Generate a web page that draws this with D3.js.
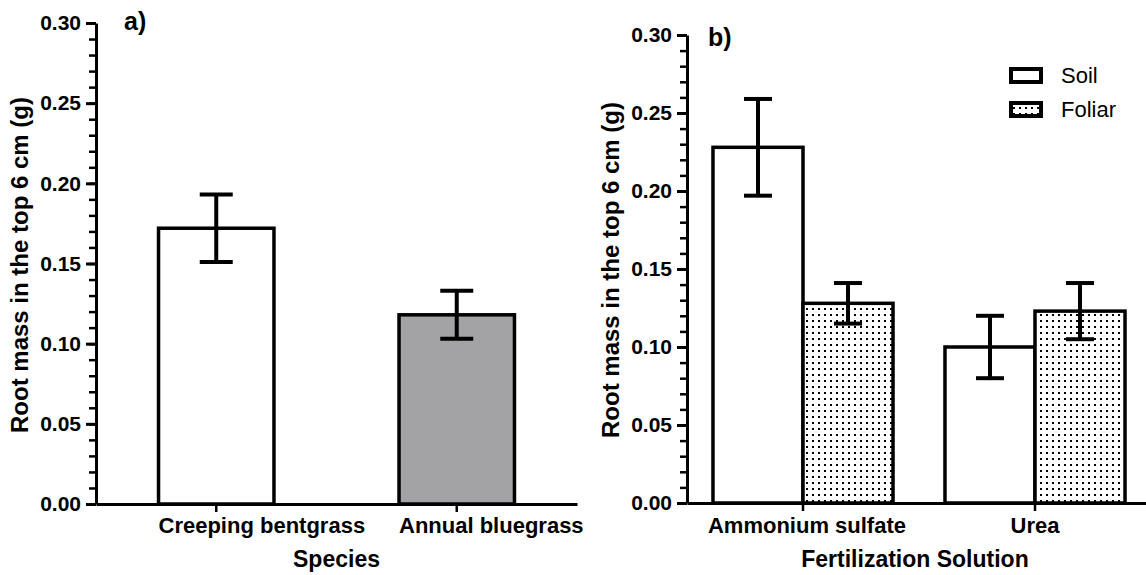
<!DOCTYPE html>
<html lang="en">
<head>
<meta charset="utf-8">
<title>Root mass bars</title>
<script src="https://d3js.org/d3.v7.min.js"></script>
<style>
  body { margin: 0; background: #fff; }
  svg text { font-family: "Liberation Sans", Arial, sans-serif; fill: #000; }
  .tickLbl { font-size: 21px; font-weight: bold; }
  .catLbl { font-size: 22px; font-weight: bold; }
  .axTitle { font-size: 23px; font-weight: bold; }
  .yTitle { font-size: 24px; font-weight: bold; }
  .panelLbl { font-size: 25px; font-weight: bold; }
  .legLbl { font-size: 22px; }
</style>
</head>
<body>
<script>
// panel a - species
var speciesCats = ["Creeping bentgrass", "Annual bluegrass"];
var speciesMean = [0.172, 0.118];
var speciesSE   = [0.021, 0.015];

// panel b - fertilization solution
var fertCats   = ["Ammonium sulfate", "Urea"];
var appMethods = ["Soil", "Foliar"];
var soilMean   = [0.228, 0.100];
var soilSE     = [0.031, 0.020];
var foliarMean = [0.128, 0.123];
var foliarSE   = [0.013, 0.018];

var yTicks = [0, 0.05, 0.10, 0.15, 0.20, 0.25, 0.30];

var svg = d3.select("body").append("svg")
    .attr("width", 1146)
    .attr("height", 575);

var defs = svg.append("defs");
var pat = defs.append("pattern")
    .attr("id", "dots")
    .attr("patternUnits", "userSpaceOnUse")
    .attr("width", 6).attr("height", 6);
pat.append("rect").attr("width", 6).attr("height", 6).attr("fill", "#fff");
pat.append("rect").attr("x", 2).attr("y", 2).attr("width", 2).attr("height", 2).attr("fill", "#000");

function yAxis(g, y, x0) {
    var ax = g.append("g").attr("transform", "translate(" + x0 + ",0)");
    // minor ticks
    ax.append("g")
        .call(d3.axisLeft(y).tickValues(d3.range(0, 0.3001, 0.01)).tickSize(7).tickFormat(""))
        .call(function(s) {
            s.select(".domain").remove();
            s.selectAll("line").attr("stroke-width", 2.5);
        });
    // major ticks
    ax.append("g")
        .call(d3.axisLeft(y).tickValues(yTicks).tickSize(10).tickSizeOuter(0).tickPadding(5)
            .tickFormat(d3.format(".2f")))
        .call(function(s) {
            s.select(".domain").attr("stroke-width", 3);
            s.selectAll("line").attr("stroke-width", 3);
            s.selectAll("text").attr("class", "tickLbl").attr("font-size", null).attr("font-family", null);
        });
}

function errBar(g, cx, yTop, yBot, capW) {
    g.append("line").attr("x1", cx).attr("x2", cx).attr("y1", yTop).attr("y2", yBot)
        .attr("stroke", "#000").attr("stroke-width", 4);
    [yTop, yBot].forEach(function(yy) {
        g.append("line").attr("x1", cx - capW / 2).attr("x2", cx + capW / 2).attr("y1", yy).attr("y2", yy)
            .attr("stroke", "#000").attr("stroke-width", 4);
    });
}

function yTitle(cx, cy) {
    svg.append("text")
        .attr("class", "yTitle")
        .attr("transform", "translate(" + cx + "," + cy + ") rotate(-90)")
        .attr("text-anchor", "middle")
        .text("Root mass in the top 6 cm (g)");
}

// ---------- panel a ----------
var yA = d3.scaleLinear().domain([0, 0.30]).range([504, 23]);
var xA = d3.scaleBand().domain(speciesCats).range([96, 577]);
var gA = svg.append("g");
var barW = xA.bandwidth() * 0.48;

speciesCats.forEach(function(c, i) {
    var cx = xA(c) + xA.bandwidth() / 2;
    gA.append("rect")
        .attr("x", cx - barW / 2).attr("y", yA(speciesMean[i]))
        .attr("width", barW).attr("height", yA(0) - yA(speciesMean[i]))
        .attr("fill", i == 0 ? "#fff" : "#a3a3a6")
        .attr("stroke", "#000").attr("stroke-width", 3.5);
    errBar(gA, cx, yA(speciesMean[i] + speciesSE[i]), yA(speciesMean[i] - speciesSE[i]), 33);
});

gA.append("g")
    .attr("transform", "translate(0," + yA(0) + ")")
    .call(d3.axisBottom(xA).tickSize(8).tickSizeOuter(0).tickFormat(""))
    .call(function(s) {
        s.select(".domain").attr("stroke-width", 3);
        s.selectAll("line").attr("stroke-width", 2.5);
    });
yAxis(gA, yA, 96);

speciesCats.forEach(function(c, i) {
    var cx = xA(c) + xA.bandwidth() / 2;
    gA.append("text").attr("class", "catLbl")
        .attr("x", cx - barW / 2).attr("y", 533)
        .text(c);
});
gA.append("text").attr("class", "axTitle").attr("text-anchor", "middle")
    .attr("x", (96 + 577) / 2).attr("y", 567).text("Species");
yTitle(28, 265);
gA.append("text").attr("class", "panelLbl").attr("x", 124).attr("y", 30).text("a)");

// ---------- panel b ----------
var yB = d3.scaleLinear().domain([0, 0.30]).range([503, 35]);
var xB = d3.scaleBand().domain(fertCats).range([687, 1151]);
var xSub = d3.scaleBand().domain(appMethods).range([0, xB.bandwidth() * 0.776])
var gB = svg.append("g");
var offB = (xB.bandwidth() - xSub.range()[1]) / 2;

fertCats.forEach(function(c, i) {
    var vals = [[soilMean[i], soilSE[i]], [foliarMean[i], foliarSE[i]]];
    appMethods.forEach(function(m, j) {
        var x0 = xB(c) + offB + xSub(m);
        gB.append("rect")
            .attr("x", x0).attr("y", yB(vals[j][0]))
            .attr("width", xSub.bandwidth()).attr("height", yB(0) - yB(vals[j][0]))
            .attr("fill", j == 0 ? "#fff" : "url(#dots)")
            .attr("stroke", "#000").attr("stroke-width", 3.5);
    });
    appMethods.forEach(function(m, j) {
        var cx = xB(c) + offB + xSub(m) + xSub.bandwidth() / 2;
        errBar(gB, cx, yB(vals[j][0] + vals[j][1]), yB(vals[j][0] - vals[j][1]), 28);
    });
});

gB.append("g")
    .attr("transform", "translate(0," + yB(0) + ")")
    .call(d3.axisBottom(xB).tickSize(8).tickSizeOuter(0).tickFormat(""))
    .call(function(s) {
        s.select(".domain").attr("stroke-width", 3);
        s.selectAll("line").attr("stroke-width", 2.5);
    });
yAxis(gB, yB, 687);

fertCats.forEach(function(c, i) {
    var cx = xB(c) + xB.bandwidth() / 2;
    var t = gB.append("text").attr("class", "catLbl").attr("y", 533).text(c);
    if (i == 0) t.attr("x", xB(c) + offB - 5);
    else t.attr("x", cx).attr("text-anchor", "middle");
});
gB.append("text").attr("class", "axTitle").attr("text-anchor", "middle")
    .attr("x", 915).attr("y", 567).text("Fertilization Solution");
yTitle(619, 270);
gB.append("text").attr("class", "panelLbl").attr("x", 708).attr("y", 46).text("b)");

// legend
var leg = gB.append("g").attr("transform", "translate(1011,69)");
appMethods.forEach(function(m, j) {
    leg.append("rect")
        .attr("x", 0).attr("y", j * 34)
        .attr("width", 30).attr("height", 13)
        .attr("fill", j == 0 ? "#fff" : "url(#dots)")
        .attr("stroke", "#000").attr("stroke-width", 4);
    leg.append("text").attr("class", "legLbl")
        .attr("x", 50).attr("y", j * 34 + 14)
        .text(m);
});
</script>
</body>
</html>
